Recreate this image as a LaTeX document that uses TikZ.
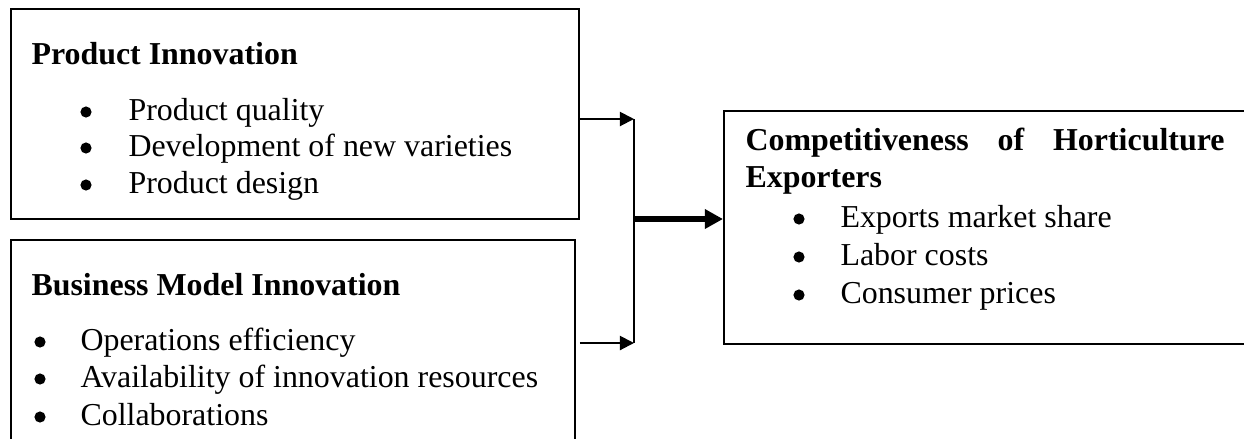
\documentclass[tikz,border=0pt]{standalone}
\usepackage{fontspec}
\setmainfont{Liberation Serif}
\usetikzlibrary{arrows.meta}

\newcommand{\pxu}{0.376pt}

\tikzset{
	box/.style={draw, line width=0.75pt, anchor=north west, inner sep=0pt},
	head/.style={anchor=base west, inner sep=0pt, font=\fontsize{12}{14}\selectfont\bfseries},
	item/.style={anchor=base west, inner sep=0pt, font=\fontsize{12}{14}\selectfont},
	dot/.style={circle, fill, inner sep=0pt, minimum size=4.2pt},
	link/.style={line width=0.75pt, -{Triangle[length=5.3pt,width=5.3pt]}},
	mainlink/.style={line width=2.2pt, -{Triangle[length=6.8pt,width=7pt]}}
}

\begin{document}
\begin{tikzpicture}[x=\pxu, y=-\pxu]
	\useasboundingbox (0,0) rectangle (1244,438);
	\clip (0,0) rectangle (1244,438);

	% boxes
	\node[box, minimum width={568*\pxu}, minimum height={210*\pxu}] (prod) at (10,8) {};
	\node[box, minimum width={564*\pxu}, minimum height={240*\pxu}] (biz) at (10,239) {};
	\node[box, minimum width={540*\pxu}, minimum height={233*\pxu}] (comp) at (723,110) {};

	% product innovation
	\node[head] (prodhead) at (31,64) {Product Innovation};
	\foreach \yy/\txt [count=\i] in {120/Product quality, 156/Development of new varieties, 193/Product design} {
		\node[dot] (pdot\i) at (86,\yy-8) {};
		\node[item] (pitem\i) at (128,\yy) {\txt};
	}

	% business model innovation
	\node[head] (bizhead) at (31,295) {Business Model Innovation};
	\foreach \yy/\txt [count=\i] in {350/Operations efficiency, 387/Availability of innovation resources, 425/Collaborations} {
		\node[dot] (bdot\i) at (40,\yy-8) {};
		\node[item] (bitem\i) at (80,\yy) {\txt};
	}

	% competitiveness
	\node[head] (comphead) at (745,150) {\makebox[180.1pt][s]{Competitiveness of Horticulture}};
	\node[head] (comphead2) at (745,187) {Exporters};
	\foreach \yy/\txt [count=\i] in {227/Exports market share, 265/Labor costs, 303/Consumer prices} {
		\node[dot] (cdot\i) at (799,\yy-8) {};
		\node[item] (citem\i) at (840,\yy) {\txt};
	}

	% connectors
	\coordinate (jtop) at (634,119);
	\coordinate (jbot) at (634,343);
	\coordinate (jmid) at (634,219);
	\draw[link] (prod.east |- jtop) -- (jtop);
	\draw[link] ([xshift={4*\pxu}]biz.east |- jbot) -- (jbot);
	\draw[line width=0.75pt] (jtop) -- (jbot);
	\draw[mainlink] (jmid) -- (comp.west |- jmid);
\end{tikzpicture}
\end{document}
